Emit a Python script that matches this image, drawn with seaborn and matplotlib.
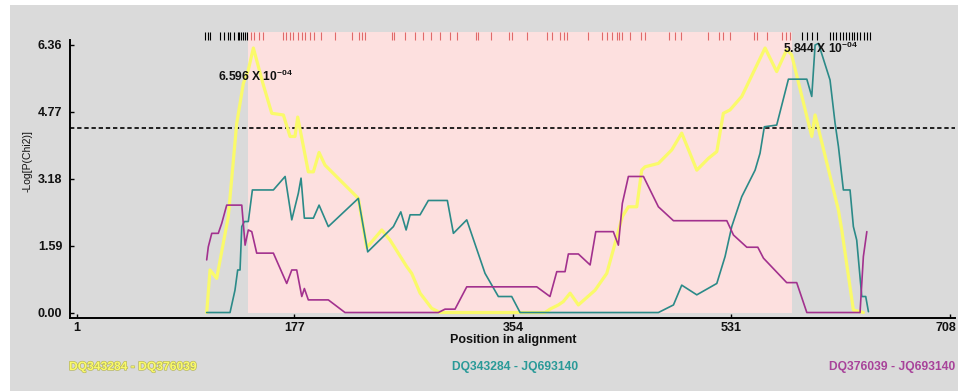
import numpy as np
import pandas as pd
import matplotlib
matplotlib.use("Agg")
import matplotlib.pyplot as plt
import seaborn as sns
from matplotlib.patches import Rectangle
from matplotlib.transforms import ScaledTranslation
import matplotlib.patheffects as pe

# ---------------- data ----------------
yellow_pos = [106, 108.7, 114.1, 123.5, 130.3, 135.7, 139.7, 143.8, 151.9, 158.7, 168.1, 173.5,
              177.5, 179.7, 188.3, 192.4, 197.0, 201.8, 228.8, 235.6, 247.8, 254.5, 268, 272,
              278.8, 288.2, 295, 380, 384, 390.8, 394.8, 400.3, 407, 420.5, 430, 436.7, 442.6,
              447.5, 454.3, 458.3, 461, 471.8, 482.6, 490.7, 502.9, 512.3, 519.1, 524.4, 529.8,
              539.3, 558.2, 567.6, 575.7, 579.7, 596, 598.7, 617.6, 620.3, 629.7, 637.8]
yellow_val = [0.0, 1.01, 0.81, 2.28, 4.49, 5.44, 5.76, 6.28, 5.40, 4.73, 4.69, 4.18,
              4.18, 4.64, 3.34, 3.34, 3.80, 3.50, 2.71, 1.54, 1.96, 1.72, 1.09, 0.93,
              0.46, 0.10, 0.0, 0.0, 0.08, 0.18, 0.26, 0.46, 0.18, 0.53, 0.93, 1.64, 2.28,
              2.51, 2.51, 3.38, 3.46, 3.54, 3.86, 4.26, 3.38, 3.66, 3.82, 4.73, 4.81,
              5.13, 6.28, 5.72, 6.24, 6.12, 4.18, 4.69, 2.43, 1.96, 0.06, 0.0]

teal_pos = [106, 124.9, 128.9, 131.1, 133, 134.4, 136.5, 139.7, 143, 160, 169.5, 174.9, 180.2,
            182.4, 185.1, 192.4, 197, 204.5, 228.8, 236.4, 257.2, 263.2, 267.5, 270.7, 278.8,
            285.5, 300.9, 305.8, 316.6, 331.4, 342.2, 353, 359.8, 471.8, 484, 490.7, 502.9,
            519.1, 525.8, 531.2, 539.3, 550.1, 554.1, 557.6, 567.6, 577.1, 592, 596, 598.7,
            601.4, 610.8, 614.9, 617.6, 621.6, 627, 629.7, 632.4, 636.5, 639.7, 641.9]
teal_val = [0, 0, 0.53, 1.01, 1.01, 2.04, 2.16, 2.16, 2.91, 2.91, 3.23, 2.20, 2.83,
            3.19, 2.24, 2.24, 2.55, 2.04, 2.71, 1.44, 2.04, 2.39, 1.96, 2.32, 2.32,
            2.66, 2.66, 1.88, 2.20, 0.93, 0.38, 0.38, 0, 0, 0.18, 0.65, 0.42,
            0.69, 1.33, 2.04, 2.75, 3.38, 3.78, 4.41, 4.45, 5.54, 5.54, 5.13, 6.35,
            6.39, 5.52, 4.49, 3.94, 2.91, 2.91, 2.04, 1.72, 0.38, 0.38, 0.02]

magenta_pos = [106, 107.3, 110.1, 115.4, 118.2, 122.2, 134.4, 137.1, 139.7, 142.5, 146.5, 160,
               170.8, 174.9, 178.9, 183, 185.1, 188.3, 204.5, 218, 293.6, 299, 307.1, 316.6,
               373.3, 384, 389.5, 396.2, 398.9, 407, 416.5, 421.1, 435.3, 439.4, 442.6, 447.5,
               459.7, 471.8, 484, 527.2, 532.6, 543.4, 552.3, 556.9, 575.7, 583.8, 592, 635.1,
               637.8, 640.6]
magenta_val = [1.25, 1.56, 1.88, 1.88, 2.12, 2.55, 2.55, 1.60, 1.96, 1.92, 1.41, 1.41,
               0.69, 1.01, 1.01, 0.38, 0.57, 0.30, 0.30, 0, 0, 0.08, 0.08, 0.61,
               0.61, 0.38, 0.97, 0.97, 1.39, 1.39, 1.13, 1.92, 1.92, 1.60, 2.59, 3.23,
               3.23, 2.51, 2.18, 2.18, 1.84, 1.55, 1.55, 1.29, 0.71, 0.71, 0, 0,
               1.33, 1.92]

black_sites = [105, 107, 109, 117, 120, 123, 125, 128, 131, 132, 134, 135, 137, 139,
               588, 592, 596, 600, 611, 613.5, 616, 619, 621.5, 624, 626.5, 628.5, 630.5,
               632.5, 635, 638, 640.5, 643]
red_sites = [142, 144, 148, 152, 168, 170, 173.5, 176, 180, 183, 185.5, 189.5, 192.5, 198.5,
             210, 224, 229, 231.5, 234, 256, 258, 266.5, 274.5, 281.5, 288, 295, 303, 309,
             324, 326, 336, 351, 353, 365.5, 381.5, 386, 392, 395, 397.5, 415, 426, 430,
             434, 438, 440, 442, 449, 458, 461, 480, 485, 490.5, 512, 520.5, 524.5, 530,
             549, 552, 560, 571.5, 575, 578.5]

xticks = [1, 177, 354, 531, 708]
yticks = [0.0, 1.59, 3.18, 4.77, 6.36]
ytick_labels = ["0.00", "1.59", "3.18", "4.77", "6.36"]
region = (139.5, 580)
threshold = 4.39

series_names = ["DQ343284 - DQ376039", "DQ343284 - JQ693140", "DQ376039 - JQ693140"]

# ---------------- style ----------------
BG = "#dadada"
PINK = "#fde0df"
YELLOW = "#fafa6a"
TEAL = "#2b8a88"
MAGENTA = "#a2318e"

sns.set_theme(style="ticks")
plt.rcParams['font.family'] = ['Liberation Sans', 'DejaVu Sans']
plt.rcParams['mathtext.fontset'] = 'custom'
plt.rcParams['mathtext.rm'] = 'Liberation Sans:bold'
plt.rcParams['mathtext.bf'] = 'Liberation Sans:bold'
plt.rcParams['mathtext.it'] = 'Liberation Sans:bold'

W, H = 958, 391
fig = plt.figure(figsize=(W / 100, H / 100), dpi=100, facecolor="white")
fig.patches.append(Rectangle((10 / W, 0), 1, 1 - 5 / H, transform=fig.transFigure,
                             facecolor=BG, edgecolor="none", zorder=-10))

ax = fig.add_axes([70 / W, 1 - 318 / H, 885 / W, (318 - 32) / H])
ax.set_facecolor("none")
ax.set_xlim(-4.7, 712)
ax.set_ylim(-0.13, 6.66)

ax.add_patch(Rectangle((region[0], -0.01), region[1] - region[0], 6.67,
                       facecolor=PINK, edgecolor="none", zorder=0))

ax.axhline(threshold, color="black", lw=1.2, linestyle=(0, (2.6, 1.7)), zorder=2)

ax.vlines(black_sites, 6.47, 6.66, color="black", lw=0.8, zorder=3)
ax.vlines(red_sites, 6.47, 6.66, color="#e06a6a", lw=0.8, zorder=3)

df_y = pd.DataFrame({"pos": yellow_pos, "val": yellow_val})
df_t = pd.DataFrame({"pos": teal_pos, "val": teal_val})
df_m = pd.DataFrame({"pos": magenta_pos, "val": magenta_val})
sns.lineplot(data=df_y, x="pos", y="val", color=YELLOW, lw=2.3, sort=False,
             estimator=None, ax=ax, zorder=4)
sns.lineplot(data=df_t, x="pos", y="val", color=TEAL, lw=1.2, sort=False,
             estimator=None, ax=ax, zorder=5)
sns.lineplot(data=df_m, x="pos", y="val", color=MAGENTA, lw=1.2, sort=False,
             estimator=None, ax=ax, zorder=6)

for s in ["top", "right"]:
    ax.spines[s].set_visible(False)
for s in ["left", "bottom"]:
    ax.spines[s].set_color("black")
    ax.spines[s].set_linewidth(1.4)
ax.spines["left"].set_bounds(-0.13, 6.47)

ax.set_xticks(xticks)
ax.set_xticklabels([str(v) for v in xticks])
ax.set_yticks(yticks)
ax.set_yticklabels(ytick_labels)
ax.tick_params(axis="both", direction="in", length=3, width=1, colors="black",
               labelsize=9, bottom=True, left=True)
ax.tick_params(axis="y", pad=5.5)
ax.tick_params(axis="x", pad=3)
for lbl in ax.get_xticklabels() + ax.get_yticklabels():
    lbl.set_fontweight("bold")
    lbl.set_color("#111111")
# keep the last x tick label inside the figure edge (as in the reference)
last = ax.get_xticklabels()[-1]
last.set_transform(last.get_transform() + ScaledTranslation(-4 / 100, 0, fig.dpi_scale_trans))
ax.set_xlabel("")
ax.set_ylabel("")

ax.text(115.2, 5.50, r"6.596 X 10$^{\mathbf{-04}}$", fontsize=8.7, fontweight="bold",
        ha="left", va="baseline", color="#111111", zorder=7)
ax.text(572.7, 6.16, r"5.844 X 10$^{\mathbf{-04}}$", fontsize=8.7, fontweight="bold",
        ha="left", va="baseline", color="#111111", zorder=7)

fig.text(28 / W, 1 - 161 / H, "-Log[P(Chi2)]", rotation=90, ha="center", va="center",
         fontsize=7.5, color="#111111")
fig.text(513 / W, 1 - 340 / H, "Position in alignment", ha="center", va="center",
         fontsize=9, fontweight="bold", color="#111111")

fig.text(69 / W, 1 - 367 / H, series_names[0], ha="left", va="center", fontsize=8.7,
         fontweight="bold", color=YELLOW,
         path_effects=[pe.withStroke(linewidth=1.0, foreground="#b8b860")])
fig.text(515 / W, 1 - 367 / H, series_names[1], ha="center", va="center", fontsize=8.7,
         fontweight="bold", color="#2a9a98")
fig.text(955 / W, 1 - 367 / H, series_names[2], ha="right", va="center", fontsize=8.7,
         fontweight="bold", color="#a8439a")

fig.savefig("out.png", dpi=100, facecolor=fig.get_facecolor())
